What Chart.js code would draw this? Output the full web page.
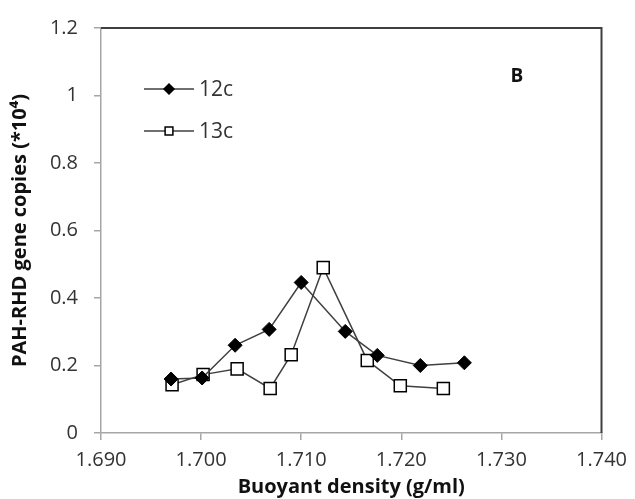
<!DOCTYPE html>
<html>
<head>
<meta charset="utf-8">
<script src="https://cdn.jsdelivr.net/npm/chart.js@4"></script>
<style>
  html, body { margin: 0; padding: 0; background: #fff; }
  #chart { display: block; }
</style>
</head>
<body>
<canvas id="chart" width="635" height="499"></canvas>
<script>
// data
const density12 = [1.6970, 1.7001, 1.7034, 1.7068, 1.7100, 1.7144, 1.7176, 1.7219, 1.7263];
const copies12  = [0.160, 0.163, 0.260, 0.307, 0.446, 0.301, 0.230, 0.200, 0.208];
const density13 = [1.6971, 1.7002, 1.7036, 1.7069, 1.7090, 1.7122, 1.7166, 1.7199, 1.7242];
const copies13  = [0.143, 0.173, 0.190, 0.132, 0.232, 0.490, 0.215, 0.140, 0.132];
const seriesLabels = ["12c", "13c"];
const xTicks = [1.690, 1.700, 1.710, 1.720, 1.730, 1.740];
const yTicks = [0, 0.2, 0.4, 0.6, 0.8, 1, 1.2];

const FONT = "'Open Sans', sans-serif";
const TEXT = "#333";
const AXIS = "#a6a6a6";

const toPoints = (xs, ys) => xs.map((x, i) => ({ x: x, y: ys[i] }));

// top + right frame of the plot area
const frame = {
  id: "frame",
  afterDraw(chart) {
    const { ctx, chartArea: a } = chart;
    ctx.save();
    ctx.strokeStyle = "#3f3f3f";
    ctx.lineWidth = 2;
    ctx.beginPath();
    ctx.moveTo(a.left, a.top);
    ctx.lineTo(a.right, a.top);
    ctx.lineTo(a.right, a.bottom);
    ctx.stroke();
    ctx.restore();
  }
};

// legend inside the plot + panel letter
const insideLegend = {
  id: "insideLegend",
  afterDraw(chart) {
    const ctx = chart.ctx;
    const rows = [89, 131];
    ctx.save();
    chart.data.datasets.forEach((ds, i) => {
      const y = rows[i];
      ctx.strokeStyle = ds.borderColor;
      ctx.lineWidth = 1.5;
      ctx.beginPath();
      ctx.moveTo(144, y);
      ctx.lineTo(194, y);
      ctx.stroke();
      ctx.fillStyle = ds.pointBackgroundColor;
      ctx.strokeStyle = ds.pointBorderColor;
      ctx.lineWidth = 1.5;
      Chart.helpers.drawPoint(ctx, {
        pointStyle: ds.pointStyle,
        radius: ds.pointStyle === "rect" ? 5.5 : 5,
        borderWidth: 1.5
      }, 169, y);
      ctx.fillStyle = TEXT;
      ctx.font = "21px " + FONT;
      ctx.textAlign = "left";
      ctx.textBaseline = "middle";
      ctx.fillText(ds.label, 199, y + 1);
    });
    ctx.font = "bold 19px " + FONT;
    ctx.fillStyle = "#111";
    ctx.textAlign = "center";
    ctx.fillText("B", 517, 77);
    ctx.restore();
  }
};

new Chart(document.getElementById("chart"), {
  type: "scatter",
  data: {
    datasets: [
      {
        label: seriesLabels[0],
        data: toPoints(density12, copies12),
        showLine: true,
        borderColor: "#404040",
        borderWidth: 1.5,
        pointStyle: "rectRot",
        pointRadius: 7,
        pointBackgroundColor: "#000",
        pointBorderColor: "#000",
        pointBorderWidth: 1
      },
      {
        label: seriesLabels[1],
        data: toPoints(density13, copies13),
        showLine: true,
        borderColor: "#404040",
        borderWidth: 1.5,
        pointStyle: "rect",
        pointRadius: 8.5,
        pointBackgroundColor: "#fff",
        pointBorderColor: "#000",
        pointBorderWidth: 1.5
      }
    ]
  },
  options: {
    responsive: false,
    animation: false,
    layout: { padding: { top: 24, right: 32, left: 0, bottom: 0 } },
    plugins: {
      legend: { display: false },
      tooltip: { enabled: false }
    },
    scales: {
      x: {
        type: "linear",
        min: xTicks[0],
        max: xTicks[xTicks.length - 1],
        afterBuildTicks: s => { s.ticks = xTicks.map(v => ({ value: v })); },
        afterFit: s => { s.height = 66; },
        ticks: {
          color: TEXT,
          font: { family: FONT, size: 20 },
          padding: 8,
          maxRotation: 0,
          callback: v => v.toFixed(3)
        },
        grid: { drawOnChartArea: false, drawTicks: true, tickLength: 7, color: AXIS, lineWidth: 1.5 },
        border: { color: AXIS, width: 1.5 },
        title: {
          display: true,
          text: "Buoyant density (g/ml)",
          color: "#111",
          font: { family: FONT, size: 20, weight: "bold" },
          padding: { top: 0, bottom: 0 }
        }
      },
      y: {
        min: yTicks[0],
        max: yTicks[yTicks.length - 1],
        afterBuildTicks: s => { s.ticks = yTicks.map(v => ({ value: v })); },
        afterFit: s => { s.width = 101; },
        ticks: {
          color: TEXT,
          font: { family: FONT, size: 20 },
          padding: 16,
          callback: v => String(+v.toFixed(1))
        },
        grid: { drawOnChartArea: false, drawTicks: true, tickLength: 7, color: AXIS, lineWidth: 1.5 },
        border: { color: AXIS, width: 1.5 },
        title: {
          display: true,
          text: "PAH-RHD gene copies (*10⁴)",
          color: "#111",
          font: { family: FONT, size: 20, weight: "bold" },
          padding: { top: 8, bottom: 0 }
        }
      }
    }
  },
  plugins: [frame, insideLegend]
});
</script>
</body>
</html>
